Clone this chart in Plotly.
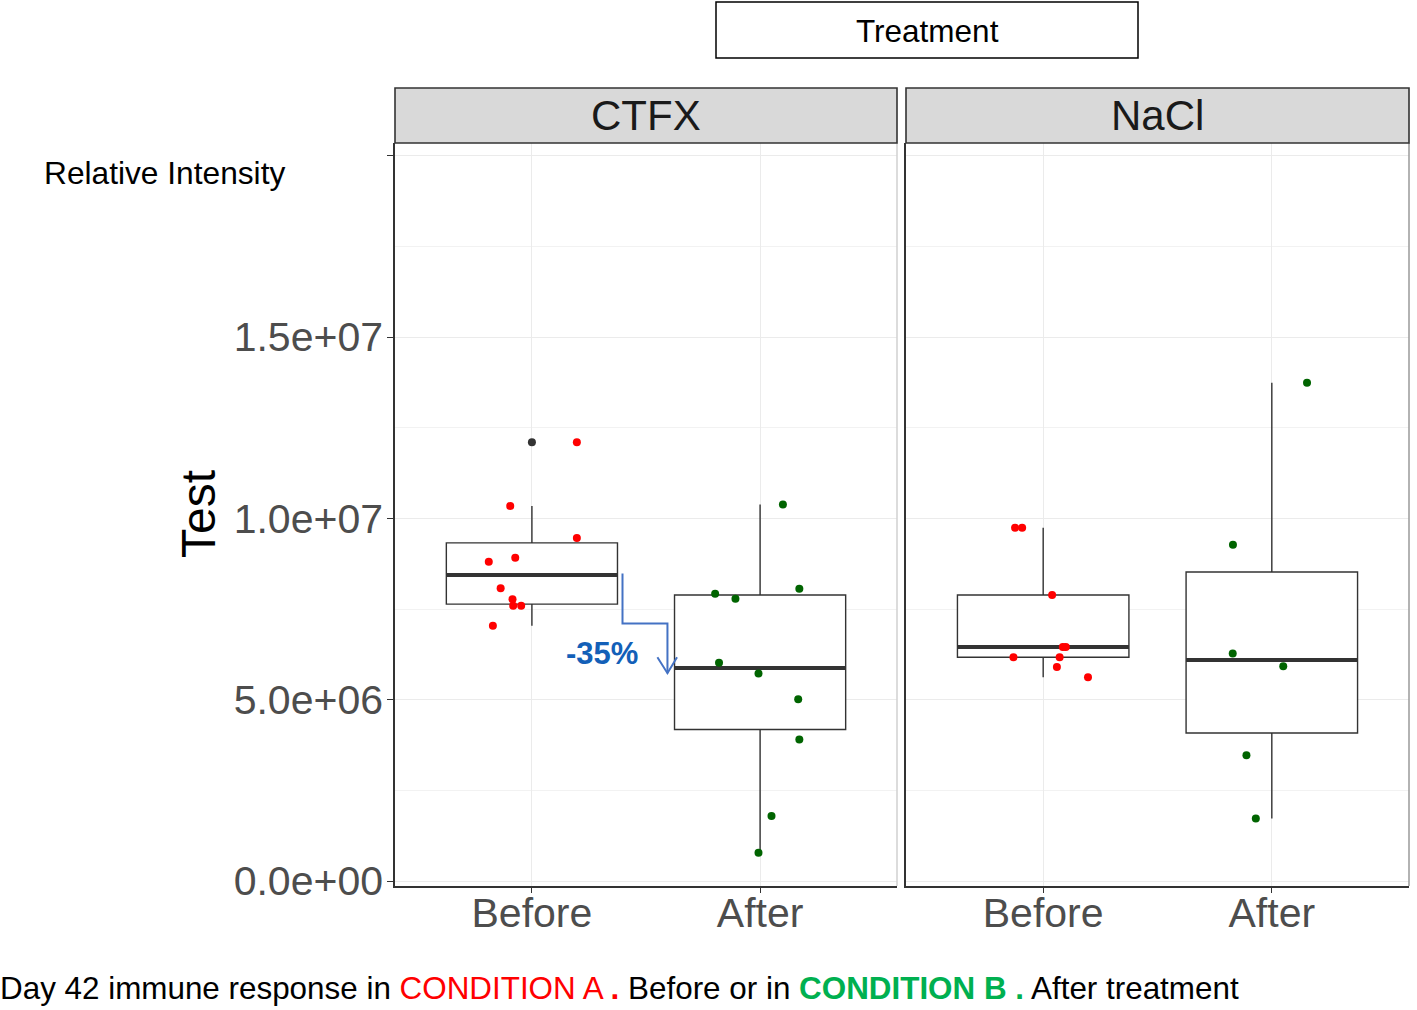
import numpy as np
import plotly.graph_objects as go

# ---------------- data ----------------
facets = ["CTFX", "NaCl"]
timepoints = ["Before", "After"]

ctfx_before = [12.10e6, 10.34e6, 9.46e6, 8.80e6, 8.91e6, 8.07e6, 7.77e6, 7.59e6, 7.59e6, 7.04e6]
ctfx_before_jitter = [0.197, -0.095, 0.197, -0.189, -0.073, -0.137, -0.085, -0.082, -0.047, -0.171]

ctfx_after = [10.38e6, 7.92e6, 7.78e6, 8.06e6, 6.02e6, 5.72e6, 5.01e6, 3.90e6, 1.79e6, 0.78e6]
ctfx_after_jitter = [0.100, -0.197, -0.108, 0.172, -0.180, -0.007, 0.167, 0.172, 0.050, -0.007]

nacl_before = [9.74e6, 9.74e6, 7.885e6, 6.45e6, 6.45e6, 6.17e6, 6.17e6, 5.90e6, 5.62e6]
nacl_before_jitter = [-0.123, -0.092, 0.039, 0.086, 0.099, -0.130, 0.072, 0.060, 0.196]

nacl_after = [13.74e6, 9.27e6, 6.27e6, 5.92e6, 3.47e6, 1.72e6]
nacl_after_jitter = [0.154, -0.170, -0.171, 0.050, -0.111, -0.070]

y_tick_values = [0, 5e6, 1e7, 1.5e7, 2e7]
y_tick_labels = ["0.0e+00", "5.0e+06", "1.0e+07", "1.5e+07", ""]
y_minor_values = [2.5e6, 7.5e6, 1.25e7, 1.75e7]

caption = ("Day 42 immune response in <span style='color:#FF0000'>CONDITION A <b>.</b></span>"
           " Before or in <b><span style='color:#00B050'>CONDITION B .</span></b> After treatment")

# ---------------- figure ----------------
W, H = 1417, 1010
FONT = "Liberation Sans, Arial, sans-serif"
DARK = "#333333"

groups = [
    (0, 0, ctfx_before, ctfx_before_jitter, "#FF0000"),
    (0, 1, ctfx_after, ctfx_after_jitter, "#006400"),
    (1, 0, nacl_before, nacl_before_jitter, "#FF0000"),
    (1, 1, nacl_after, nacl_after_jitter, "#006400"),
]

fig = go.Figure()
BOXW = 0.75

for fi, ti, vals, jit, col in groups:
    xa = "x" if fi == 0 else "x2"
    ya = "y" if fi == 0 else "y2"
    pos = ti + 1
    v = np.array(vals)
    q1, med, q3 = np.percentile(v, [25, 50, 75])
    iqr = q3 - q1
    lo_f, hi_f = q1 - 1.5 * iqr, q3 + 1.5 * iqr
    upper = v[v <= hi_f].max()
    lower = v[v >= lo_f].min()
    outl = v[(v > hi_f) | (v < lo_f)]

    fig.add_trace(go.Box(
        x=[pos], q1=[q1], median=[med], q3=[q3], lowerfence=[lower], upperfence=[upper],
        width=BOXW, whiskerwidth=0, fillcolor="white",
        line=dict(color=DARK, width=1.4), boxpoints=False,
        xaxis=xa, yaxis=ya, showlegend=False, hoverinfo="skip"))
    # thick median (ggplot fatten)
    fig.add_trace(go.Scatter(
        x=[pos - BOXW / 2, pos + BOXW / 2], y=[med, med], mode="lines",
        line=dict(color=DARK, width=4), xaxis=xa, yaxis=ya,
        showlegend=False, hoverinfo="skip"))
    if len(outl):
        fig.add_trace(go.Scatter(
            x=[pos] * len(outl), y=outl, mode="markers",
            marker=dict(color=DARK, size=8), xaxis=xa, yaxis=ya,
            showlegend=False, hoverinfo="skip"))
    fig.add_trace(go.Scatter(
        x=[pos + j for j in jit], y=vals, mode="markers",
        marker=dict(color=col, size=8), xaxis=xa, yaxis=ya,
        showlegend=False))

# panel geometry (pixels -> paper)
def px(x):
    return x / W

def py(y):
    return 1 - y / H

panels = [(395, 897), (906, 1409)]
p_top, p_bot, strip_top = 143, 886, 88
y_range = [-0.138e6, 20.35e6]

xcommon = dict(range=[0.4, 2.6], tickmode="array", tickvals=[1, 2], ticktext=timepoints,
               showgrid=True, gridcolor="#EBEBEB", gridwidth=1, zeroline=False,
               showline=True, linecolor=DARK, linewidth=1.6, automargin=False,
               ticks="outside", ticklen=5, tickcolor=DARK, ticklabelstandoff=-15,
               tickfont=dict(size=41, color="#4D4D4D", family=FONT))
ycommon = dict(range=y_range, tickmode="array", tickvals=y_tick_values,
               showgrid=True, gridcolor="#EBEBEB", gridwidth=1, zeroline=False,
               showline=True, linecolor=DARK, linewidth=1.6, automargin=False,
               minor=dict(tickmode="array", tickvals=y_minor_values, showgrid=True,
                          gridcolor="#F2F2F2", gridwidth=0.8, ticks=""),
               domain=[py(p_bot), py(p_top)])

fig.update_layout(
    width=W, height=H, margin=dict(l=0, r=0, t=0, b=0, pad=0, autoexpand=False),
    paper_bgcolor="white", plot_bgcolor="white",
    font=dict(family=FONT, color="black"),
    xaxis=dict(domain=[px(panels[0][0]), px(panels[0][1])], anchor="y", **xcommon),
    xaxis2=dict(domain=[px(panels[1][0]), px(panels[1][1])], anchor="y2", **xcommon),
    yaxis=dict(anchor="x", ticktext=y_tick_labels, ticks="outside", ticklen=6, tickcolor=DARK,
               ticklabelstandoff=-4,
               tickfont=dict(size=41, color="#4D4D4D", family=FONT), **ycommon),
    yaxis2=dict(anchor="x2", showticklabels=False, ticks="", **ycommon),
)

shapes = []
annotations = []
# right borders of panels
for (x0, x1), col in zip(panels, ["#D0D0D0", "#9A9A9A"]):
    shapes.append(dict(type="line", xref="paper", yref="paper",
                       x0=px(x1), x1=px(x1), y0=py(p_bot), y1=py(p_top),
                       line=dict(color=col, width=1.5)))
# strips
for (x0, x1), name in zip(panels, facets):
    shapes.append(dict(type="rect", xref="paper", yref="paper",
                       x0=px(x0), x1=px(x1), y0=py(p_top), y1=py(strip_top),
                       fillcolor="#D9D9D9", line=dict(color=DARK, width=1.6)))
    annotations.append(dict(text=name, xref="paper", yref="paper",
                            x=px((x0 + x1) / 2), y=py((p_top + strip_top) / 2),
                            showarrow=False, font=dict(size=42, color="#1A1A1A", family=FONT),
                            xanchor="center", yanchor="middle"))
# Treatment box
shapes.append(dict(type="rect", xref="paper", yref="paper",
                   x0=px(716), x1=px(1138), y0=py(58), y1=py(2),
                   fillcolor="white", line=dict(color="black", width=1.5)))
annotations.append(dict(text="Treatment", xref="paper", yref="paper",
                        x=px(927), y=py(31), showarrow=False,
                        font=dict(size=31.5, color="black", family=FONT),
                        xanchor="center", yanchor="middle"))
# Relative Intensity
annotations.append(dict(text="Relative Intensity", xref="paper", yref="paper",
                        x=px(42), y=py(173), showarrow=False,
                        font=dict(size=31.7, color="black", family=FONT),
                        xanchor="left", yanchor="middle"))
# y title
annotations.append(dict(text="Test", xref="paper", yref="paper",
                        x=px(198), y=py(514), showarrow=False, textangle=-90,
                        font=dict(size=48, color="black", family=FONT),
                        xanchor="center", yanchor="middle"))
# caption
annotations.append(dict(text=caption, xref="paper", yref="paper",
                        x=px(-2), y=py(988), showarrow=False,
                        font=dict(size=31.4, color="black", family=FONT),
                        xanchor="left", yanchor="middle"))
# -35% annotation with stepped arrow
ARROW = "#4472C4"
shapes.append(dict(type="path", xref="x", yref="y",
                   path="M 1.397,8.48e6 V 7.10e6 H 1.594 V 5.73e6",
                   line=dict(color=ARROW, width=2)))
shapes.append(dict(type="path", xref="x", yref="y",
                   path="M 1.550,6.17e6 L 1.594,5.73e6 L 1.636,6.17e6",
                   line=dict(color=ARROW, width=2)))
annotations.append(dict(text="<b>-35%</b>", xref="x", yref="y",
                        x=1.307, y=6.26e6, showarrow=False,
                        font=dict(size=31, color="#1360B8", family=FONT),
                        xanchor="center", yanchor="middle"))

fig.update_layout(shapes=shapes, annotations=annotations)
fig.write_html("out.html")
